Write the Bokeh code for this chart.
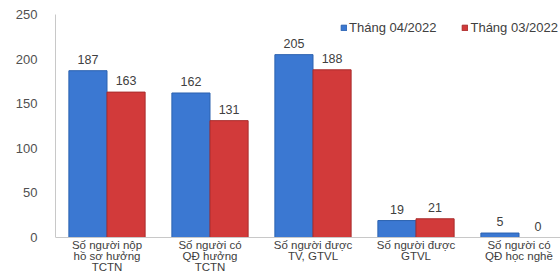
from bokeh.plotting import figure
from bokeh.models import ColumnDataSource, Range1d, FixedTicker, Legend, LegendItem, LabelSet, Span
from bokeh.core.properties import value
from bokeh.embed import file_html
from bokeh.resources import INLINE

categories = [
    "Số người nộp\nhồ sơ hưởng\nTCTN",
    "Số người có\nQĐ hưởng\nTCTN",
    "Số người được\nTV, GTVL",
    "Số người được\nGTVL",
    "Số người có\nQĐ học nghề",
]
series_names = ["Tháng 04/2022", "Tháng 03/2022"]
apr_2022 = [187, 162, 205, 19, 5]
mar_2022 = [163, 131, 188, 21, 0]
y_ticks = [0, 50, 100, 150, 200, 250]

BLUE = "#3B78D2"
RED = "#D23A3A"
FONT = "Liberation Sans"

W, H = 560, 276
LEFT, TOP = 55, 14
AXIS_Y = 237                      # pixel row of the value 0
px_per_unit = (AXIS_Y - TOP) / 250.0
y_start = -(H - AXIS_Y) / px_per_unit

p = figure(width=W, height=H, output_backend="svg", toolbar_location=None,
           x_range=Range1d(0, (W - LEFT) / 103.0), y_range=Range1d(y_start, 250),
           min_border_left=LEFT, min_border_right=0, min_border_top=TOP, min_border_bottom=0)

idx = list(range(len(categories)))
bw = 0.37
src_a = ColumnDataSource(dict(x=[i + 0.5 - bw / 2 for i in idx], top=apr_2022, lab=[str(v) for v in apr_2022]))
src_m = ColumnDataSource(dict(x=[i + 0.5 + bw / 2 for i in idx], top=mar_2022, lab=[str(v) for v in mar_2022]))

ra = p.vbar(x="x", top="top", bottom=0, width=bw, source=src_a, fill_color=BLUE, line_color="#2C62B0", line_width=1)
rm = p.vbar(x="x", top="top", bottom=0, width=bw, source=src_m, fill_color=RED, line_color="#A92C2C", line_width=1)

for s in (src_a, src_m):
    p.add_layout(LabelSet(x="x", y="top", text="lab", source=s, text_align="center",
                          text_baseline="bottom", y_offset=7, text_font=value(FONT),
                          text_font_size="12.5px", text_color="#404040"))

# category axis: baseline plus labels underneath
p.add_layout(Span(location=0, dimension="width", line_color="#C8C8C8", line_width=1))
src_c = ColumnDataSource(dict(x=[i + 0.5 for i in idx],
                              y=[-1.5 / px_per_unit] * len(idx), lab=categories))
p.text(x="x", y="y", text="lab", source=src_c, text_align="center", text_baseline="top",
       text_font=value(FONT), text_font_size="11.5px", text_line_height=0.9, text_color="#404040")

p.xaxis.visible = False
p.xgrid.grid_line_color = None
p.ygrid.grid_line_color = None
p.outline_line_color = None

p.yaxis.ticker = FixedTicker(ticks=y_ticks)
p.yaxis.bounds = (0, 250)
p.yaxis.major_tick_line_color = None
p.yaxis.minor_tick_line_color = None
p.yaxis.axis_line_color = "#C8C8C8"
p.yaxis.major_label_text_font = FONT
p.yaxis.major_label_text_font_size = "13px"
p.yaxis.major_label_text_color = "#505050"
p.yaxis.major_label_standoff = 12

legend = Legend(items=[LegendItem(label=series_names[0], renderers=[ra]),
                       LegendItem(label=series_names[1], renderers=[rm])],
                orientation="horizontal", location=(285, 241),
                glyph_width=7, glyph_height=7, spacing=25, padding=0, margin=0,
                label_text_font=FONT, label_text_font_size="13px", label_text_color="#404040",
                label_standoff=2, background_fill_alpha=0, border_line_color=None)
p.add_layout(legend)

open("out.html", "w").write(file_html(p, INLINE))
